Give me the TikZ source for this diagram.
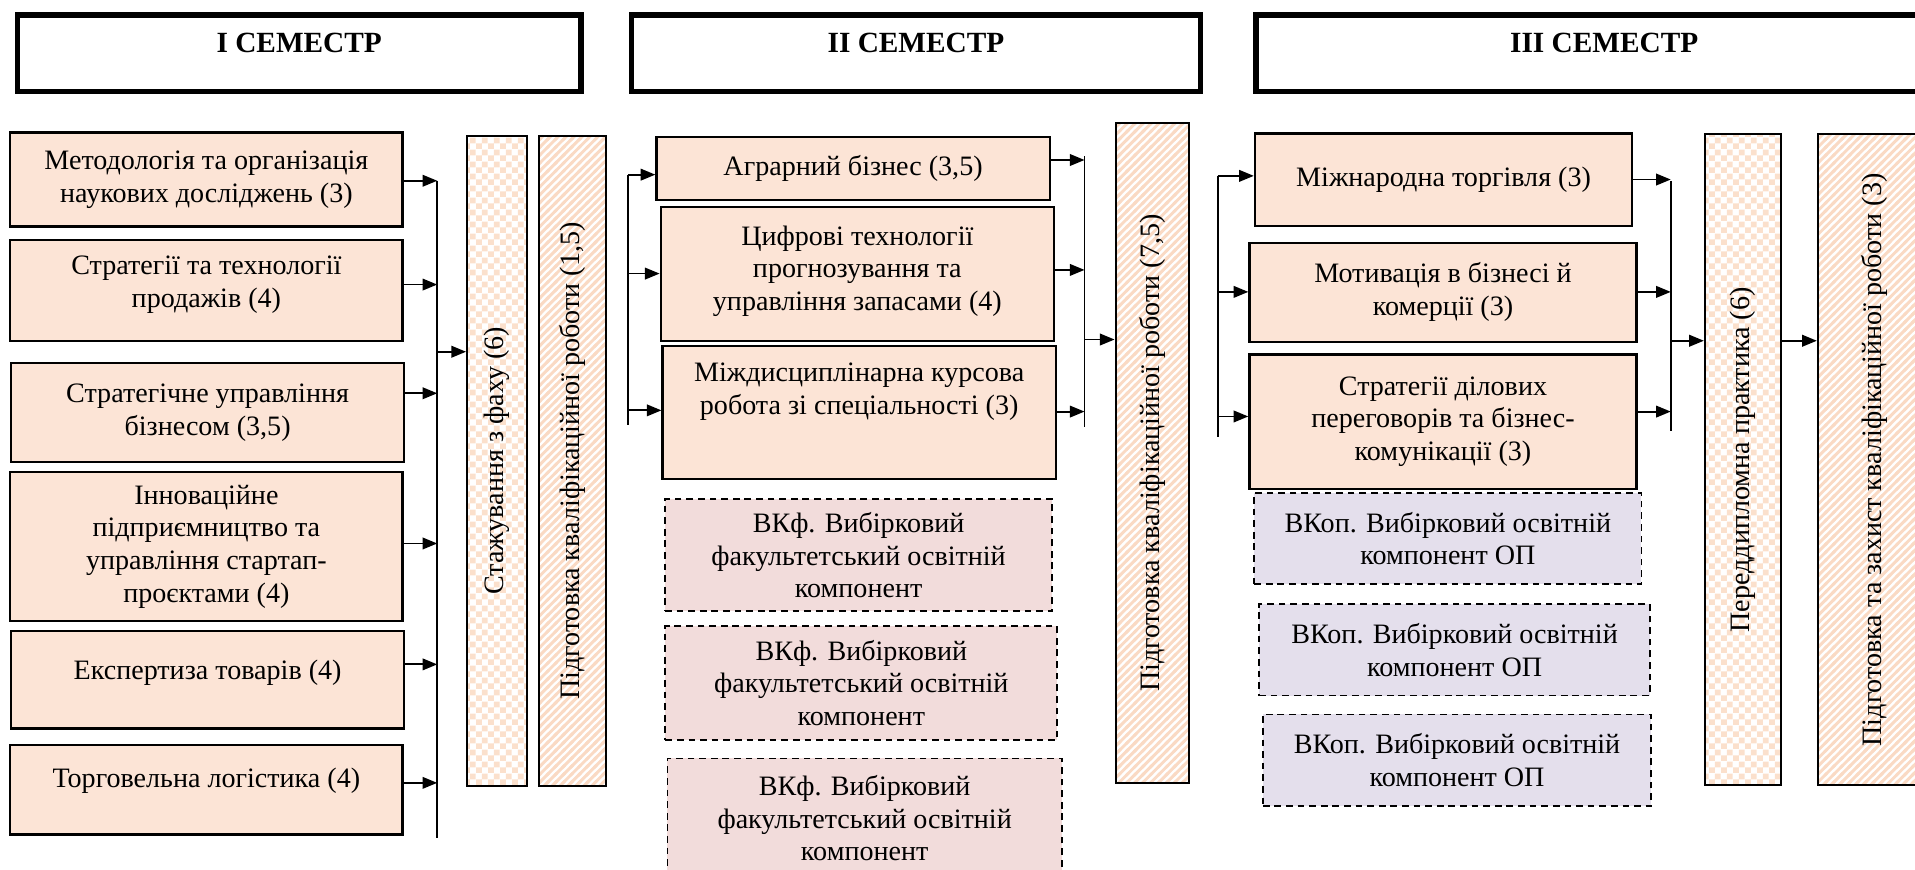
\documentclass[tikz,border=0pt]{standalone}
\usepackage{fontspec}
\setmainfont{Liberation Serif}
\newfontfamily\tnr{Liberation Serif}
\usepackage{graphicx}
\usetikzlibrary{arrows.meta,patterns}

\definecolor{peach}{RGB}{252,228,214}
\definecolor{pinkf}{RGB}{242,220,219}
\definecolor{lavf}{RGB}{228,223,236}
\definecolor{stripec}{RGB}{250,218,196}
\definecolor{checkc}{RGB}{251,224,204}

\pgfdeclarepatternformonly{mychecker}{\pgfqpoint{0pt}{0pt}}{\pgfqpoint{10pt}{10pt}}{\pgfqpoint{10pt}{10pt}}{%
  \pgfpathrectangle{\pgfqpoint{0pt}{0pt}}{\pgfqpoint{5pt}{5pt}}%
  \pgfpathrectangle{\pgfqpoint{5pt}{5pt}}{\pgfqpoint{5pt}{5pt}}%
  \pgfusepath{fill}}
\pgfdeclarepatternformonly{mystripes}{\pgfqpoint{-2pt}{-2pt}}{\pgfqpoint{8.5pt}{8.5pt}}{\pgfqpoint{6.5pt}{6.5pt}}{%
  \pgfsetlinewidth{2.4pt}%
  \pgfpathmoveto{\pgfqpoint{-1pt}{-1pt}}%
  \pgfpathlineto{\pgfqpoint{7.5pt}{7.5pt}}%
  \pgfusepath{stroke}}

\newcommand\mybody{\tnr\fontsize{23}{26.8}\selectfont}
\newcommand\myhead{\tnr\fontsize{24}{28}\selectfont\bfseries}

\tikzset{
  hdr/.style={draw, line width=4.5pt, fill=white, font=\myhead, text depth=17pt},
  subj/.style={draw, line width=1.8pt, fill=peach, align=center, font=\mybody, inner sep=2pt},
  vkf/.style={draw, line width=1.5pt, dash pattern=on 5.5pt off 4pt, fill=pinkf, align=center, font=\mybody, inner sep=2pt},
  vkop/.style={draw, line width=1.5pt, dash pattern=on 5.5pt off 4pt, fill=lavf, align=center, font=\mybody, inner sep=2pt},
  chk/.style={draw, line width=1.8pt, pattern=mychecker, pattern color=checkc, font=\mybody, inner sep=0pt},
  strp/.style={draw, line width=1.8pt, pattern=mystripes, pattern color=stripec, font=\mybody, inner sep=0pt},
  bus/.style={line width=1.5pt},
  arr/.style={line width=1.5pt, -{Triangle[length=12pt,width=9.5pt]}}
}

\begin{document}
\begin{tikzpicture}[x=1pt,y=-1pt]
\useasboundingbox (0,0) rectangle (1568,712);
\clip (0,0) rectangle (1568,712);

% headers
\node[hdr, minimum width=461.5, minimum height=62.5] (h1) at (245,43.5) {I СЕМЕСТР};
\node[hdr, minimum width=465.5, minimum height=62.5] (h2) at (750,43.5) {II СЕМЕСТР};
\node[hdr, minimum width=570, minimum height=62.5] (h3) at (1313.5,43.5) {III СЕМЕСТР};

% column 1
\node[subj, minimum width=321, minimum height=77] (m1) at (169,147) {Методологія та організація\\ наукових досліджень (3)};
\node[subj, minimum width=321, minimum height=83, text depth=15pt] (m2) at (169,238) {Стратегії та технології\\ продажів (4)};
\node[subj, minimum width=322, minimum height=81] (m3) at (170,338) {Стратегічне управління\\ бізнесом (3,5)};
\node[subj, minimum width=321, minimum height=122] (m4) at (169,447.5) {Інноваційне\\ підприємництво та\\ управління стартап-\\ проєктами (4)};
\node[subj, minimum width=322, minimum height=80, text depth=17pt] (m5) at (170,556.5) {Експертиза товарів (4)};
\node[subj, minimum width=321, minimum height=73, text depth=20pt] (m6) at (169,646.75) {Торговельна логістика (4)};

\node[chk, minimum width=49, minimum height=532] (st) at (407,377.5) {\rotatebox{90}{Стажування з фаху (6)}};
\node[strp, minimum width=55, minimum height=532] (p1) at (469,377.5) {\rotatebox{90}{Підготовка кваліфікаційної роботи (1,5)}};

\coordinate (b1t) at (358,148);
\coordinate (b1b) at (358,686);
\coordinate (b1a) at (358,148);
\coordinate (b1c) at (358,233);
\coordinate (b1d) at (358,322);
\coordinate (b1e) at (358,445);
\coordinate (b1f) at (358,544);
\coordinate (b1g) at (358,641);
\coordinate (b1o) at (358,288);
\draw[bus] (b1t) -- (b1b);
\draw[arr] (m1.east |- b1a) -- (b1a);
\draw[arr] (m2.east |- b1c) -- (b1c);
\draw[arr] (m3.east |- b1d) -- (b1d);
\draw[arr] (m4.east |- b1e) -- (b1e);
\draw[arr] (m5.east |- b1f) -- (b1f);
\draw[arr] (m6.east |- b1g) -- (b1g);
\draw[arr] (b1o) -- (st.west |- b1o);

% column 2
\node[subj, minimum width=322, minimum height=51] (a1) at (698.5,138) {Аграрний бізнес (3,5)};
\node[subj, minimum width=322, minimum height=110, text depth=10pt] (a2) at (702,224.5) {Цифрові технології\\ прогнозування та\\ управління запасами (4)};
\node[subj, minimum width=322, minimum height=109, text depth=40pt] (a3) at (703.5,338) {Міждисциплінарна курсова\\ робота зі спеціальності (3)};

\node[vkf, minimum width=317, minimum height=92] (k1) at (703,454.5) {ВКф. Вибірковий\\ факультетський освітній\\ компонент};
\node[vkf, minimum width=321, minimum height=93] (k2) at (705.25,559.3) {ВКф. Вибірковий\\ факультетський освітній\\ компонент};
\node[vkf, minimum width=323, minimum height=98] (k3) at (708,670) {ВКф. Вибірковий\\ факультетський освітній\\ компонент};

\node[strp, minimum width=60, minimum height=540] (p2) at (943.5,371) {\rotatebox{90}{Підготовка кваліфікаційної роботи (7,5)}};

\coordinate (b2t) at (514,143);
\coordinate (b2b) at (514,348);
\coordinate (b2a) at (514,143);
\coordinate (b2c) at (514,224);
\coordinate (b2d) at (514,336);
\draw[bus] (b2t) -- (b2b);
\draw[arr] (b2a) -- (a1.west |- b2a);
\draw[arr] (b2c) -- (a2.west |- b2c);
\draw[arr] (b2d) -- (a3.west |- b2d);

\coordinate (b3t) at (888,128);
\coordinate (b3b) at (888,350);
\coordinate (b3a) at (888,131);
\coordinate (b3c) at (888,221);
\coordinate (b3d) at (888,337);
\coordinate (b3o) at (888,278);
\draw[bus] (b3t) -- (b3b);
\draw[arr] (a1.east |- b3a) -- (b3a);
\draw[arr] (a2.east |- b3c) -- (b3c);
\draw[arr] (a3.east |- b3d) -- (b3d);
\draw[arr] (b3o) -- (p2.west |- b3o);

% column 3
\node[subj, minimum width=309, minimum height=76] (n1) at (1182,147.3) {Міжнародна торгівля (3)};
\node[subj, minimum width=317, minimum height=81] (n2) at (1181.5,239.3) {Мотивація в бізнесі й\\ комерції (3)};
\node[subj, minimum width=317, minimum height=110] (n3) at (1181.5,345.3) {Стратегії ділових\\ переговорів та бізнес-\\ комунікації (3)};

\node[vkop, minimum width=317, minimum height=75] (v1) at (1185.5,441) {ВКоп. Вибірковий освітній\\ компонент ОП};
\node[vkop, minimum width=320, minimum height=75] (v2) at (1191,532) {ВКоп. Вибірковий освітній\\ компонент ОП};
\node[vkop, minimum width=318, minimum height=75] (v3) at (1193,622.5) {ВКоп. Вибірковий освітній\\ компонент ОП};

\node[chk, minimum width=62, minimum height=533] (pd) at (1427,376.5) {\rotatebox{90}{Переддипломна практика (6)}};
\node[strp, minimum width=93, minimum height=533] (pz) at (1535,376.5) {\rotatebox{90}{Підготовка та захист кваліфікаційної роботи (3)}};

\coordinate (b4t) at (997,144);
\coordinate (b4b) at (997,358);
\coordinate (b4a) at (997,144);
\coordinate (b4c) at (997,239);
\coordinate (b4d) at (997,341);
\draw[bus] (b4t) -- (b4b);
\draw[arr] (b4a) -- (n1.west |- b4a);
\draw[arr] (b4c) -- (n2.west |- b4c);
\draw[arr] (b4d) -- (n3.west |- b4d);

\coordinate (b5t) at (1368,148);
\coordinate (b5b) at (1368,353);
\coordinate (b5a) at (1368,147);
\coordinate (b5c) at (1368,239);
\coordinate (b5d) at (1368,337);
\coordinate (b5o) at (1368,279);
\draw[bus] (b5t) -- (b5b);
\draw[arr] (n1.east |- b5a) -- (b5a);
\draw[arr] (n2.east |- b5c) -- (b5c);
\draw[arr] (n3.east |- b5d) -- (b5d);
\draw[arr] (b5o) -- (pd.west |- b5o);
\coordinate (c6) at (1470,279);
\draw[arr] (pd.east |- c6) -- (pz.west |- c6);
\end{tikzpicture}
\end{document}
